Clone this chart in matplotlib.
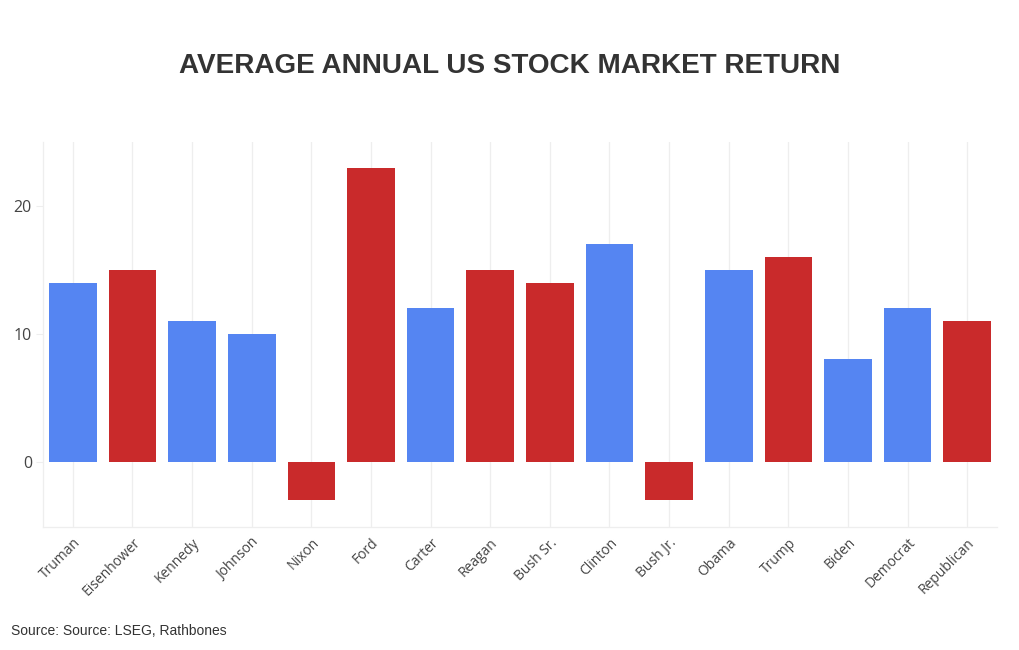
import matplotlib
matplotlib.use("Agg")
import matplotlib.pyplot as plt

# ── data ──────────────────────────────────────────────────────────────────────
presidents = ["Truman", "Eisenhower", "Kennedy", "Johnson", "Nixon", "Ford",
              "Carter", "Reagan", "Bush Sr.", "Clinton", "Bush Jr.", "Obama",
              "Trump", "Biden", "Democrat", "Republican"]
returns = [14, 15, 11, 10, -3, 23, 12, 15, 14, 17, -3, 15, 16, 8, 12, 11]
party = ["D", "R", "D", "D", "R", "R", "D", "R", "R", "D", "R", "D",
         "R", "D", "D", "R"]

PARTY_COLOURS = {"D": "#5585F2", "R": "#C92A2B"}

# ── figure ────────────────────────────────────────────────────────────────────
fig = plt.figure(figsize=(10.2, 6.5), dpi=100)
ax = fig.add_axes([0.0422, 0.1892, 0.9353, 0.5923])

x = list(range(len(presidents)))
colours = [PARTY_COLOURS[p] for p in party]
ax.bar(x, returns, width=0.8, color=colours, zorder=3)

ax.set_xlim(-0.5, len(presidents) - 0.5)
ax.set_ylim(-5.1, 25)
ax.set_xticks(x)
ax.set_xticklabels(presidents, rotation=45, ha="right", rotation_mode="anchor",
                   fontsize=10, color="#444444", family="Open Sans")
ax.set_yticks([0, 10, 20])
ax.set_yticklabels(["0", "10", "20"], fontsize=11.5, color="#444444",
                   family="Open Sans")
ax.tick_params(axis="x", length=0, pad=6)
ax.tick_params(axis="y", length=5, color="#eeeeee", pad=3)

ax.xaxis.grid(True, color="#eeeeee", linewidth=0.9, zorder=0)
ax.set_axisbelow(True)
for side in ["top", "right"]:
    ax.spines[side].set_visible(False)
for side in ["left", "bottom"]:
    ax.spines[side].set_color("#eeeeee")
    ax.spines[side].set_linewidth(0.9)

fig.text(0.5, 0.898, "AVERAGE ANNUAL US STOCK MARKET RETURN",
         ha="center", va="center", fontsize=20.1, fontweight="bold",
         color="#333333", family="Liberation Sans")
fig.text(0.011, 0.029, "Source: Source: LSEG, Rathbones", ha="left",
         va="center", fontsize=10, color="#333333", family="Liberation Sans")

fig.savefig("out.png", dpi=100)
